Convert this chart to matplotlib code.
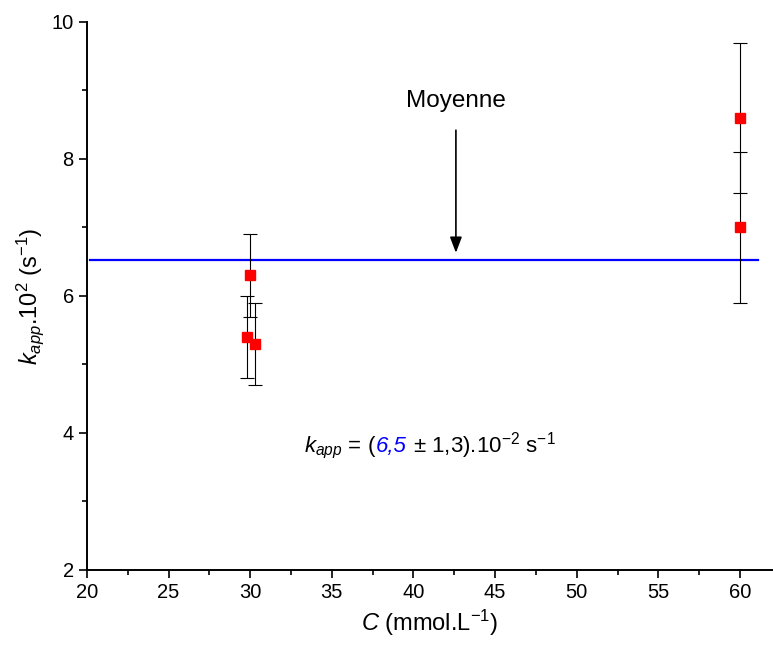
import matplotlib
matplotlib.use("Agg")
import matplotlib.pyplot as plt
from matplotlib.ticker import MultipleLocator
from matplotlib.offsetbox import TextArea, HPacker, AnnotationBbox

plt.rcParams["font.family"] = ["Liberation Sans", "DejaVu Sans"]
plt.rcParams["mathtext.fontset"] = "custom"
plt.rcParams["mathtext.rm"] = "Liberation Sans"
plt.rcParams["mathtext.it"] = "Liberation Sans:italic"

# data
conc = [29.8, 30.0, 30.3, 60.0, 60.0]
k_app = [5.4, 6.3, 5.3, 8.6, 7.0]
k_err = [0.6, 0.6, 0.6, 1.1, 1.1]
mean_k = 6.52
mean_x = [20.2, 61.1]

fig = plt.figure(figsize=(7.73, 6.5), dpi=100)
ax = fig.add_axes([0.1125, 0.1231, 0.887, 0.8431])

ax.plot(mean_x, [mean_k, mean_k], color="blue", lw=1.6, zorder=2)
ax.errorbar(conc, k_app, yerr=k_err, fmt="none", ecolor="black",
            elinewidth=0.8, capsize=5, capthick=0.8, zorder=3)
ax.plot(conc, k_app, "s", color="red", markersize=7, zorder=4)

ax.annotate("", xy=(42.6, 6.63), xytext=(42.6, 8.42),
            arrowprops=dict(arrowstyle="-|>,head_length=0.95,head_width=0.36",
                            color="black", lw=1.2, mutation_scale=10,
                            shrinkA=0, shrinkB=0))
ax.text(42.6, 8.84, "Moyenne", ha="center", va="center", fontsize=17.5)

tp = dict(fontsize=16)
box = HPacker(children=[
    TextArea(r"$k_{app}$ = (", textprops=tp),
    TextArea("6,5", textprops=dict(fontsize=16, color="blue", style="italic")),
    TextArea(r" ± 1,3).10$^{-2}$ s$^{-1}$", textprops=tp),
], align="baseline", pad=0, sep=0)
ax.add_artist(AnnotationBbox(box, (41.0, 3.82), frameon=False,
                             box_alignment=(0.5, 0.5)))

ax.set_xlim(20, 62)
ax.set_ylim(2, 10)
ax.xaxis.set_major_locator(MultipleLocator(5))
ax.xaxis.set_minor_locator(MultipleLocator(2.5))
ax.yaxis.set_major_locator(MultipleLocator(2))
ax.yaxis.set_minor_locator(MultipleLocator(1))
for s in ["top", "right"]:
    ax.spines[s].set_visible(False)
for s in ["left", "bottom"]:
    ax.spines[s].set_linewidth(1.4)
ax.tick_params(which="major", length=6, width=1.2, labelsize=14.5)
ax.tick_params(which="minor", length=3.5, width=1.2)

ax.set_xlabel(r"$C$ (mmol.L$^{-1}$)", fontsize=17, labelpad=4)
ax.set_ylabel(r"$k_{app}$.10$^2$ (s$^{-1}$)", fontsize=17, labelpad=4)

fig.savefig("out.png", dpi=100)
